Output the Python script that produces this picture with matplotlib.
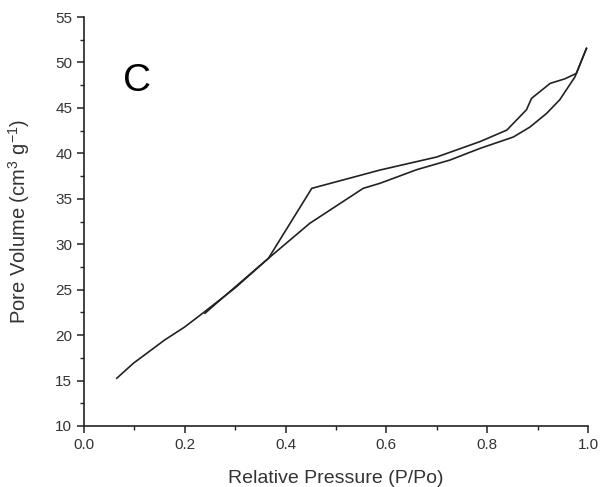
import matplotlib.pyplot as plt
from matplotlib.ticker import MultipleLocator

plt.rcParams['font.family'] = ['Liberation Sans', 'DejaVu Sans']
plt.rcParams['mathtext.fontset'] = 'custom'
plt.rcParams['mathtext.rm'] = 'Liberation Sans'

# adsorption branch
ads_x = [0.065, 0.098, 0.16, 0.2, 0.24, 0.3, 0.366, 0.448, 0.554, 0.587,
         0.66, 0.726, 0.786, 0.852, 0.885, 0.918, 0.944, 0.974, 0.997]
ads_y = [15.25, 16.9, 19.46, 20.9, 22.6, 25.2, 28.45, 32.3, 36.15, 36.7,
         38.2, 39.26, 40.55, 41.8, 42.9, 44.4, 45.9, 48.4, 51.55]

# desorption branch
des_x = [0.997, 0.977, 0.954, 0.925, 0.888, 0.878, 0.839, 0.786, 0.7,
         0.587, 0.452, 0.366, 0.3, 0.24]
des_y = [51.55, 48.8, 48.2, 47.7, 46.05, 44.8, 42.56, 41.3, 39.6,
         38.16, 36.15, 28.45, 25.3, 22.4]

fig = plt.figure(figsize=(6.02, 4.87), dpi=100)
ax = fig.add_axes([0.1395, 0.1253, 0.8372, 0.8397])

ax.plot(ads_x, ads_y, color='#222222', lw=1.2)
ax.plot(des_x, des_y, color='#222222', lw=1.2)

ax.set_xlim(0, 1.0)
ax.set_ylim(10, 55)
ax.xaxis.set_major_locator(MultipleLocator(0.2))
ax.xaxis.set_minor_locator(MultipleLocator(0.1))
ax.yaxis.set_major_locator(MultipleLocator(5))
ax.yaxis.set_minor_locator(MultipleLocator(2.5))

for s in ['top', 'right']:
    ax.spines[s].set_visible(False)
for s in ['left', 'bottom']:
    ax.spines[s].set_linewidth(1.2)
    ax.spines[s].set_color('#222222')

ax.tick_params(which='major', direction='out', length=5, width=1.1,
               labelsize=11, colors='#222222', labelcolor='#333333')
ax.tick_params(which='minor', direction='out', length=3, width=1.0,
               colors='#222222')

ax.set_xlabel('Relative Pressure (P/Po)', fontsize=14, color='#333333',
              labelpad=13)
ax.set_ylabel('Pore Volume (cm$^{3}$ g$^{\\mathregular{-1}}$)', fontsize=14.5,
              color='#333333', labelpad=17)

ax.text(0.105, 48, 'C', fontsize=28, color='black', ha='center',
        va='center')

fig.savefig('out.png', dpi=100)
